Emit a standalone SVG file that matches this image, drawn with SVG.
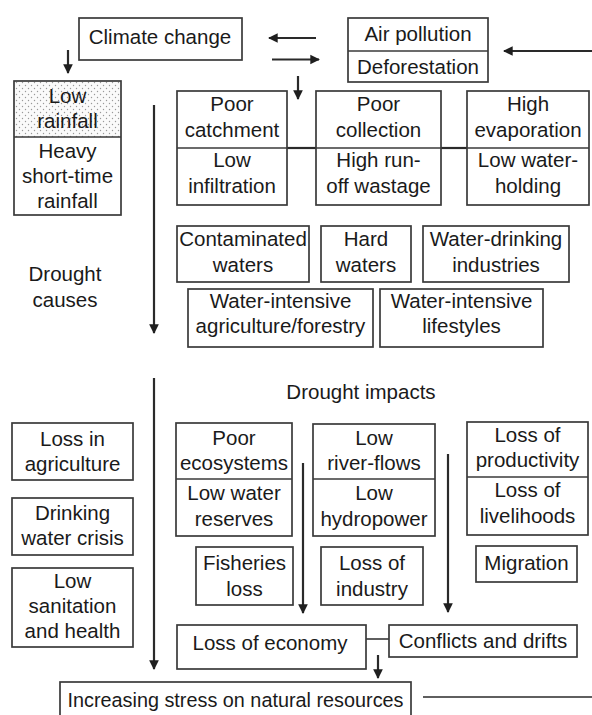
<svg xmlns="http://www.w3.org/2000/svg" width="592" height="715" viewBox="0 0 592 715">
<style>
.b{fill:none;stroke:#3a3a3a;stroke-width:1.7}
.t{font-family:"Liberation Sans",Arial,sans-serif;font-size:20.5px;fill:#1a1a1a;text-anchor:middle}
.c{fill:none;stroke:#2a2a2a;stroke-width:2.2}
.a{fill:none;stroke:#2a2a2a;stroke-width:2.2;marker-end:url(#ah)}
</style>
<defs>
<marker id="ah" viewBox="0 0 10 10" refX="9" refY="5" markerWidth="4.4" markerHeight="4.6" orient="auto" markerUnits="strokeWidth">
<path d="M0,0 L10,5 L0,10 z" fill="#1f1f1f"/>
</marker>
<pattern id="dots" width="6" height="6" patternUnits="userSpaceOnUse">
<rect width="6" height="6" fill="#fafafa"/>
<circle cx="1.5" cy="1.5" r="0.7" fill="#999"/>
<circle cx="4.5" cy="4.5" r="0.7" fill="#999"/>
</pattern>
</defs>
<rect width="592" height="715" fill="#ffffff"/>

<g id="connectors">
<line class="a" x1="68" y1="50" x2="68" y2="73"/>
<line class="a" x1="316" y1="38" x2="269" y2="38"/>
<line class="a" x1="272" y1="59.5" x2="319" y2="59.5"/>
<line class="a" x1="298" y1="76" x2="298" y2="99"/>
<line class="a" x1="592" y1="51" x2="504" y2="51"/>
<line class="a" x1="154" y1="105" x2="154" y2="333"/>
<line class="c" x1="287" y1="148" x2="316" y2="148"/>
<line class="c" x1="441" y1="148" x2="467" y2="148"/>
<line class="a" x1="154" y1="378" x2="154" y2="669"/>
<line class="a" x1="303" y1="463" x2="303" y2="613"/>
<line class="a" x1="448" y1="454" x2="448" y2="612"/>
<line class="c" x1="366" y1="639" x2="389" y2="639" style="stroke-width:1.5"/>
<line class="a" x1="378" y1="655" x2="378" y2="678"/>
<line class="c" x1="423" y1="697" x2="592" y2="697" style="stroke-width:1.5"/>
</g>

<g id="climate-change">
<rect class="b" x="79" y="18" width="163" height="42"/>
<text class="t" x="160" y="44">Climate change</text>
</g>

<g id="air-pollution">
<rect class="b" x="348" y="18" width="140" height="64"/>
<line class="b" x1="348" y1="51" x2="488" y2="51"/>
<text class="t" x="418" y="41">Air pollution</text>
<text class="t" x="418" y="74">Deforestation</text>
</g>

<g id="rainfall">
<rect x="14" y="81" width="107" height="56" fill="url(#dots)"/>
<rect class="b" x="14" y="81" width="107" height="134"/>
<line class="b" x1="14" y1="137" x2="121" y2="137"/>
<text class="t" x="67.5" y="103">Low</text>
<text class="t" x="67.5" y="128">rainfall</text>
<text class="t" x="67.5" y="158">Heavy</text>
<text class="t" x="67.5" y="183">short-time</text>
<text class="t" x="67.5" y="208">rainfall</text>
</g>

<g id="catchment">
<rect class="b" x="177" y="91" width="110" height="114"/>
<line class="b" x1="177" y1="148" x2="287" y2="148"/>
<text class="t" x="232" y="111">Poor</text>
<text class="t" x="232" y="137">catchment</text>
<text class="t" x="232" y="167">Low</text>
<text class="t" x="232" y="193">infiltration</text>
</g>

<g id="collection">
<rect class="b" x="316" y="91" width="125" height="114"/>
<line class="b" x1="316" y1="148" x2="441" y2="148"/>
<text class="t" x="378.5" y="111">Poor</text>
<text class="t" x="378.5" y="137">collection</text>
<text class="t" x="378.5" y="167">High run-</text>
<text class="t" x="378.5" y="193">off wastage</text>
</g>

<g id="evaporation">
<rect class="b" x="467" y="91" width="122" height="114"/>
<line class="b" x1="467" y1="148" x2="589" y2="148"/>
<text class="t" x="528" y="111">High</text>
<text class="t" x="528" y="137">evaporation</text>
<text class="t" x="528" y="167">Low water-</text>
<text class="t" x="528" y="193">holding</text>
</g>

<g id="contaminated">
<rect class="b" x="177" y="226" width="132" height="56"/>
<text class="t" x="243" y="246">Contaminated</text>
<text class="t" x="243" y="272">waters</text>
</g>

<g id="hard-waters">
<rect class="b" x="321" y="226" width="90" height="56"/>
<text class="t" x="366" y="246">Hard</text>
<text class="t" x="366" y="272">waters</text>
</g>

<g id="industries">
<rect class="b" x="423" y="226" width="146" height="56"/>
<text class="t" x="496" y="246">Water-drinking</text>
<text class="t" x="496" y="272">industries</text>
</g>

<g id="agriculture">
<rect class="b" x="188" y="289" width="185" height="58"/>
<text class="t" x="280.5" y="308">Water-intensive</text>
<text class="t" x="280.5" y="333">agriculture/forestry</text>
</g>

<g id="lifestyles">
<rect class="b" x="380" y="289" width="163" height="58"/>
<text class="t" x="461.5" y="308">Water-intensive</text>
<text class="t" x="461.5" y="333">lifestyles</text>
</g>

<g id="drought-causes">
<text class="t" x="65" y="281">Drought</text>
<text class="t" x="65" y="307">causes</text>
</g>

<g id="drought-impacts">
<text class="t" x="361" y="399">Drought impacts</text>
</g>

<g id="loss-agriculture">
<rect class="b" x="12" y="423" width="121" height="57"/>
<text class="t" x="72.5" y="446">Loss in</text>
<text class="t" x="72.5" y="471">agriculture</text>
</g>

<g id="drinking-water">
<rect class="b" x="12" y="498" width="121" height="57"/>
<text class="t" x="72.5" y="520">Drinking</text>
<text class="t" x="72.5" y="545">water crisis</text>
</g>

<g id="sanitation">
<rect class="b" x="12" y="568" width="121" height="79"/>
<text class="t" x="72.5" y="588">Low</text>
<text class="t" x="72.5" y="613">sanitation</text>
<text class="t" x="72.5" y="638">and health</text>
</g>

<g id="ecosystems">
<rect class="b" x="176" y="423" width="116" height="113"/>
<line class="b" x1="176" y1="479" x2="292" y2="479"/>
<text class="t" x="234" y="445">Poor</text>
<text class="t" x="234" y="470">ecosystems</text>
<text class="t" x="234" y="500">Low water</text>
<text class="t" x="234" y="526">reserves</text>
</g>

<g id="river-flows">
<rect class="b" x="313" y="424" width="122" height="112"/>
<line class="b" x1="313" y1="479" x2="435" y2="479"/>
<text class="t" x="374" y="445">Low</text>
<text class="t" x="374" y="470">river-flows</text>
<text class="t" x="374" y="500">Low</text>
<text class="t" x="374" y="526">hydropower</text>
</g>

<g id="productivity">
<rect class="b" x="467" y="422" width="121" height="113"/>
<line class="b" x1="467" y1="477" x2="588" y2="477"/>
<text class="t" x="527.5" y="442">Loss of</text>
<text class="t" x="527.5" y="467">productivity</text>
<text class="t" x="527.5" y="497">Loss of</text>
<text class="t" x="527.5" y="523">livelihoods</text>
</g>

<g id="fisheries">
<rect class="b" x="196" y="547" width="97" height="58"/>
<text class="t" x="244.5" y="570">Fisheries</text>
<text class="t" x="244.5" y="596">loss</text>
</g>

<g id="industry">
<rect class="b" x="321" y="547" width="102" height="58"/>
<text class="t" x="372" y="570">Loss of</text>
<text class="t" x="372" y="596">industry</text>
</g>

<g id="migration">
<rect class="b" x="476" y="546" width="101" height="36"/>
<text class="t" x="526.5" y="570">Migration</text>
</g>

<g id="economy">
<rect class="b" x="177" y="625" width="189" height="44"/>
<text class="t" x="270" y="650">Loss of economy</text>
</g>

<g id="conflicts">
<rect class="b" x="389" y="625" width="188" height="32"/>
<text class="t" x="483" y="648">Conflicts and drifts</text>
</g>

<g id="stress">
<rect class="b" x="60" y="682" width="351" height="40"/>
<text class="t" x="235.5" y="707" textLength="336" lengthAdjust="spacingAndGlyphs">Increasing stress on natural resources</text>
</g>
</svg>
